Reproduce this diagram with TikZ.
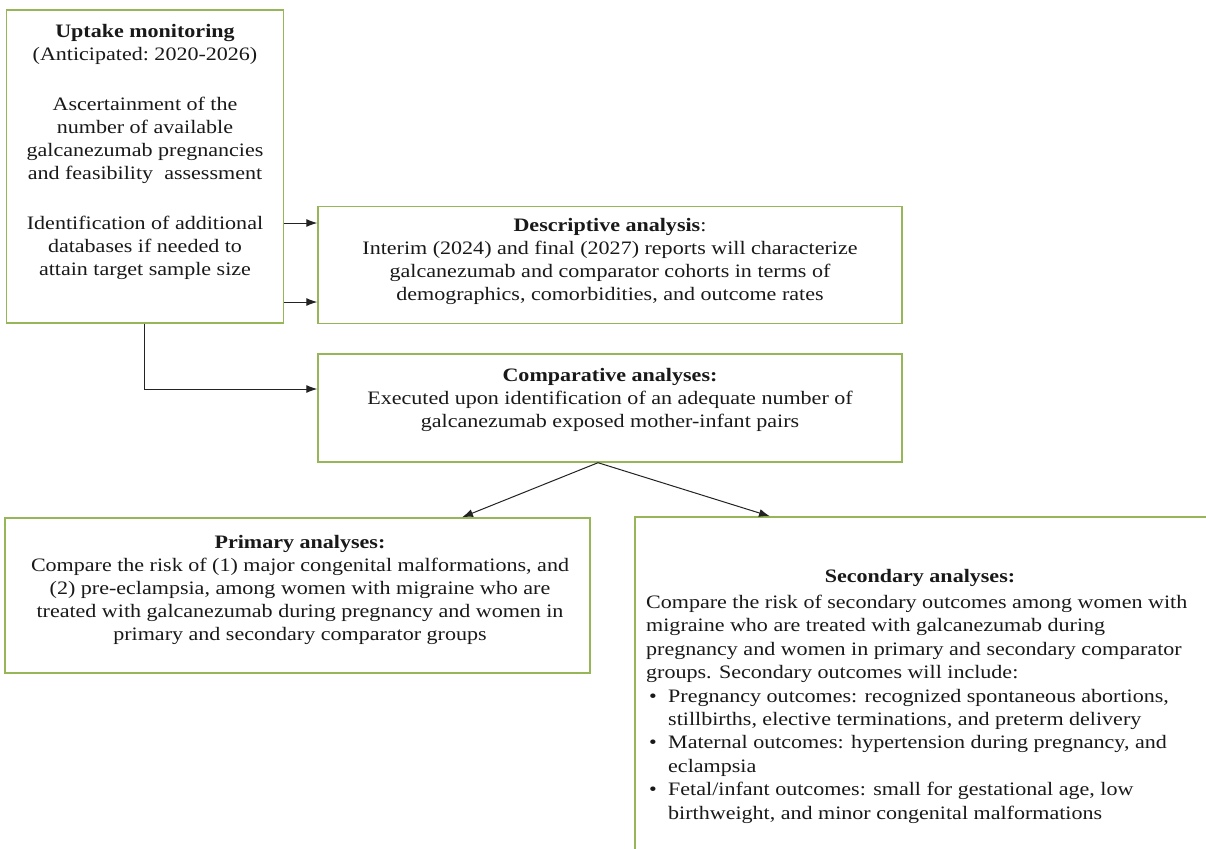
\documentclass[tikz,border=0pt]{standalone}
\usepackage{fontspec}
\setmainfont[FakeStretch=1.16]{Liberation Serif}
\usetikzlibrary{arrows.meta}
\definecolor{boxgreen}{RGB}{150,182,88}
\definecolor{linegray}{RGB}{35,35,35}
\tikzset{
  box/.style={draw=boxgreen, line width=1.4pt, fill=white, inner sep=0pt},
  txt/.style={font=\fontsize{19}{23}\selectfont, align=center, inner sep=0pt, text=black!90},
  ltxt/.style={font=\fontsize{19}{23.4}\selectfont, align=left, inner sep=0pt, text=black!90, anchor=north west},
  conn/.style={draw=linegray, line width=1pt, -{Latex[length=11pt,width=8pt]}},
}
\begin{document}
\begin{tikzpicture}[x=1pt,y=-1pt]
\useasboundingbox (0,0) rectangle (1206,848);
\fill[white] (0,0) rectangle (1206,848);
% boxes
\node[box, minimum width=277pt, minimum height=313pt] (A) at (145,166.5) {};
\node[box, minimum width=584pt, minimum height=117pt] (B) at (610,265) {};
\node[box, minimum width=584pt, minimum height=108pt] (C) at (610,408) {};
\node[box, minimum width=585pt, minimum height=155pt] (D) at (297.5,595.5) {};
\node[box, minimum width=590pt, minimum height=350pt] (E) at (930,692) {};
% texts
\node[txt] (At) at (145,151.5) {\textbf{Uptake monitoring}\\(Anticipated:\ 2020-2026)\\[27pt]Ascertainment of the\\number of available\\galcanezumab pregnancies\\and feasibility\ \ assessment\\[27pt]Identification of additional\\databases if needed to\\attain target sample size};
\node[txt] (Bt) at (610,261.5) {\textbf{Descriptive analysis}:\\Interim (2024) and final (2027) reports will characterize\\galcanezumab and comparator cohorts in terms of\\demographics, comorbidities, and outcome rates};
\node[txt] (Ct) at (610,400) {\textbf{Comparative analyses:}\\Executed upon identification of an adequate number of\\galcanezumab exposed mother-infant pairs};
\node[txt] (Dt) at (300,590) {\textbf{Primary analyses:}\\Compare the risk of (1) major congenital malformations, and\\(2) pre-eclampsia, among women with migraine who are\\treated with galcanezumab during pregnancy and women in\\primary and secondary comparator groups};
\node[txt] (Eh) at (920,578) {\textbf{Secondary analyses:}};
\node[ltxt] (Et) at (646,595) {Compare the risk of secondary outcomes among women with\\migraine who are treated with galcanezumab during\\pregnancy and women in primary and secondary comparator\\groups. Secondary outcomes will include:\\
\makebox[22pt][l]{\hspace*{3pt}\textbullet}Pregnancy outcomes: recognized spontaneous abortions,\\
\hspace*{22pt}stillbirths, elective terminations, and preterm delivery\\
\makebox[22pt][l]{\hspace*{3pt}\textbullet}Maternal outcomes: hypertension during pregnancy, and\\
\hspace*{22pt}eclampsia\\
\makebox[22pt][l]{\hspace*{3pt}\textbullet}Fetal/infant outcomes: small for gestational age, low\\
\hspace*{22pt}birthweight, and minor congenital malformations};
% connectors
\coordinate (a1) at (A.east |- 0,223);
\coordinate (a2) at (A.east |- 0,302);
\draw[conn] (a1) -- (B.west |- a1);
\draw[conn] (a2) -- (B.west |- a2);
\coordinate (a3) at (144,0 |- A.south);
\coordinate (a4) at (144,389);
\draw[conn] (a3) -- (a4) -- (C.west |- a4);
\coordinate (c1) at (598,0 |- C.south);
\draw[conn] (c1) -- (462,0 |- D.north);
\draw[conn] (c1) -- (770,0 |- E.north);
\end{tikzpicture}
\end{document}
